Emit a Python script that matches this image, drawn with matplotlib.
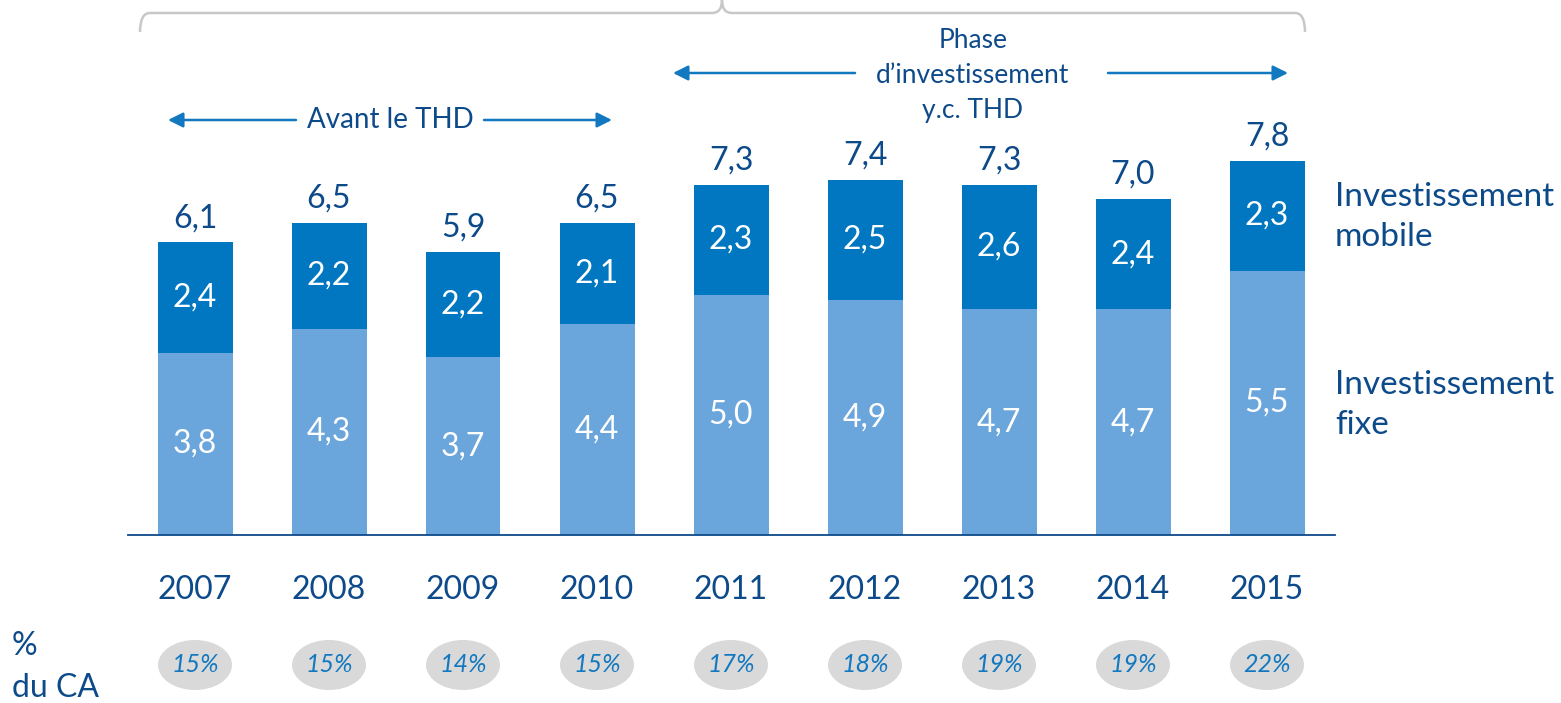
import matplotlib

matplotlib.use("Agg")
import matplotlib.pyplot as plt
from matplotlib.patches import Ellipse
from matplotlib.path import Path
from matplotlib.patches import PathPatch

years = ["2007", "2008", "2009", "2010", "2011", "2012", "2013", "2014", "2015"]
fixe = [3.8, 4.3, 3.7, 4.4, 5.0, 4.9, 4.7, 4.7, 5.5]
mobile = [2.4, 2.2, 2.2, 2.1, 2.3, 2.5, 2.6, 2.4, 2.3]
totals = [6.1, 6.5, 5.9, 6.5, 7.3, 7.4, 7.3, 7.0, 7.8]
pct_ca = ["15%", "15%", "14%", "15%", "17%", "18%", "19%", "19%", "22%"]

DARK = "#0d4a8a"
MOBILE_C = "#0077c0"
FIXE_C = "#6aa6dc"
ARROW_C = "#1278c0"
GREY = "#c8c8c8"
FONT = "Lato"

W, H = 1561, 703
X0, STEP, BASE, UNIT = 195, 134, 535, 48


def px(x):
    return (x - X0) / STEP


def py(y):
    return (BASE - y) / UNIT


def fmt(v):
    return f"{v:.1f}".replace(".", ",")


fig = plt.figure(figsize=(W / 100, H / 100), dpi=100)
ax = fig.add_axes([0, 0, 1, 1])
ax.set_xlim(px(0), px(W))
ax.set_ylim(py(H), py(0))
ax.axis("off")

idx = list(range(len(years)))
width = 75 / STEP
ax.bar(idx, fixe, width=width, color=FIXE_C)
ax.bar(idx, [t - f for t, f in zip(totals, fixe)], bottom=fixe, width=width, color=MOBILE_C)

for i in idx:
    ax.text(i, fixe[i] / 2, fmt(fixe[i]), ha="center", va="center", color="white",
            fontsize=23, family=FONT)
    ax.text(i, (fixe[i] + totals[i]) / 2, fmt(mobile[i]), ha="center", va="center",
            color="white", fontsize=23, family=FONT)
    ax.text(i, totals[i] + 24 / UNIT, fmt(totals[i]), ha="center", va="center",
            color=DARK, fontsize=23, family=FONT)
    ax.text(i, py(590), years[i], ha="center", va="center", color=DARK,
            fontsize=23, family=FONT)
    ax.add_patch(Ellipse((i, py(665)), 74 / STEP, 50 / UNIT, color="#d9d9d9", lw=0))
    ax.text(i, py(665), pct_ca[i], ha="center", va="center", color=ARROW_C,
            fontsize=18, family=FONT, style="italic")

# baseline
ax.plot([px(128), px(1335)], [0, 0], color=DARK, lw=1.3)

# series labels on the right
ax.text(px(1335), py(217), "Investissement\nmobile", ha="left", va="center",
        color=DARK, fontsize=24, family=FONT, linespacing=1.4)
ax.text(px(1335), py(405), "Investissement\nfixe", ha="left", va="center",
        color=DARK, fontsize=24, family=FONT, linespacing=1.4)

# left label
ax.text(px(12), py(667), "%\ndu CA", ha="left", va="center", color=DARK,
        fontsize=23, family=FONT, linespacing=1.5)

# top bracket
verts = [(140, 32), (140, 13), (150, 13), (712, 13), (722, 13), (722, 0),
         (722, 13), (732, 13), (1295, 13), (1305, 13), (1305, 32)]
codes = [Path.MOVETO, Path.CURVE3, Path.CURVE3, Path.LINETO, Path.CURVE3, Path.CURVE3,
         Path.CURVE3, Path.CURVE3, Path.LINETO, Path.CURVE3, Path.CURVE3]
ax.add_patch(PathPatch(Path([(px(x), py(y)) for x, y in verts], codes),
                       fill=False, edgecolor=GREY, lw=1.8))

arrow = dict(arrowstyle="-|>,head_length=0.9,head_width=0.45", color=ARROW_C, lw=1.8,
             shrinkA=0, shrinkB=0)


def span(x_start, x_gap0, x_gap1, x_end, y):
    ax.annotate("", xy=(px(x_start), py(y)), xytext=(px(x_gap0), py(y)), arrowprops=arrow)
    ax.annotate("", xy=(px(x_end), py(y)), xytext=(px(x_gap1), py(y)), arrowprops=arrow)


span(168, 296, 484, 612, 120)
ax.text(px(390), py(120), "Avant le THD", ha="center", va="center", color=DARK,
        fontsize=20, family=FONT)

span(673, 855, 1108, 1288, 73)
ax.text(px(973), py(75), "Phase\nd\u2019investissement\ny.c. THD", ha="center",
        va="center", color=DARK, fontsize=19, family=FONT, linespacing=1.5)

fig.savefig("out.png", dpi=100)
